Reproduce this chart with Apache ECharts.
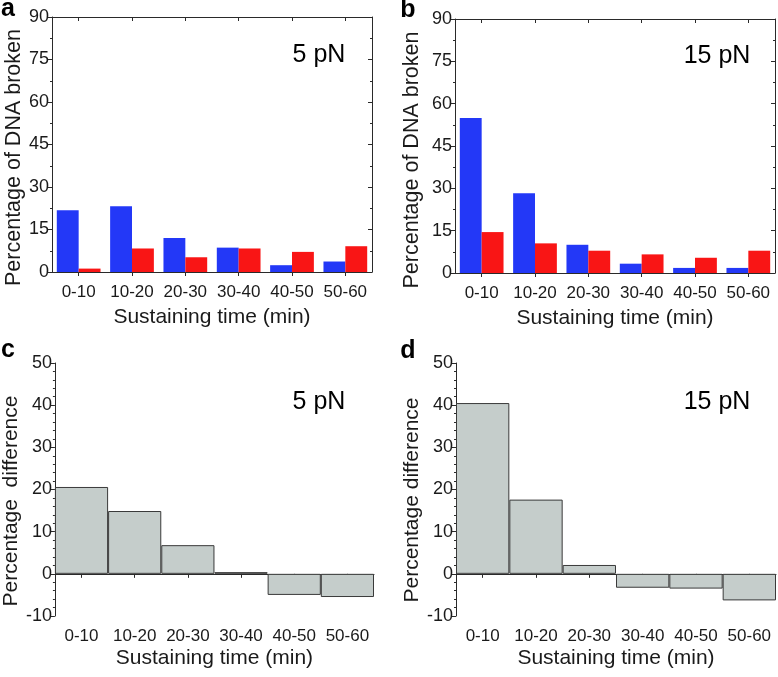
<!DOCTYPE html>
<html>
<head>
<meta charset="utf-8">
<script src="https://cdn.jsdelivr.net/npm/echarts@6/dist/echarts.min.js"></script>
<style>html,body{margin:0;padding:0;background:#fff}#c{width:778px;height:677px}</style>
</head>
<body>
<div id="c"></div>
<script>
const categories = ['0-10', '10-20', '20-30', '30-40', '40-50', '50-60'];
const blue5 = [21.8, 23.2, 12.0, 8.6, 2.4, 3.7];
const red5 = [1.2, 8.3, 5.2, 8.3, 7.1, 9.1];
const blue15 = [54.9, 28.3, 10.0, 3.3, 1.8, 1.8];
const red15 = [14.5, 10.5, 7.9, 6.6, 5.4, 7.9];
const diff5 = [20.6, 14.9, 6.8, 0.4, -5.0, -5.5];
const diff15 = [40.5, 17.6, 2.1, -3.3, -3.5, -6.3];
const topYTicks = [0, 15, 30, 45, 60, 75, 90];
const bottomYTicks = [-10, 0, 10, 20, 30, 40, 50];
const xTitle = 'Sustaining time (min)';
const yTitleTop = 'Percentage of DNA broken';
const yTitleC = 'Percentage  difference';
const yTitleD = 'Percentage difference';

const FONT = "'Liberation Sans', Arial, sans-serif";
const TXT = '#1a1a1a';
const LINE = '#2a2a2a';

const chart = echarts.init(document.getElementById('c'), null, {renderer: 'canvas'});

const grids = [
  {left: 52, top: 17, width: 320, height: 255},
  {left: 455, top: 19, width: 320, height: 254},
  {left: 53, top: 363, width: 321, height: 253},
  {left: 456, top: 363, width: 320, height: 253}
];

function xBottom(gi, gap, nameGap) {
  return {
    type: 'category', gridIndex: gi, data: categories, position: 'bottom',
    axisLine: {show: gi < 2, onZero: false, lineStyle: {color: LINE, width: 1}},
    axisTick: {show: gi < 2, alignWithLabel: true, length: 4, lineStyle: {color: LINE}},
    axisLabel: {color: TXT, fontSize: 17, fontFamily: FONT, margin: gap, interval: 0},
    name: xTitle, nameLocation: 'middle', nameGap: nameGap,
    nameTextStyle: {color: TXT, fontSize: 21, fontFamily: FONT}
  };
}
function xTop(gi, onZero) {
  return {
    type: 'category', gridIndex: gi, data: categories, position: 'top',
    axisLine: {show: true, onZero: onZero, lineStyle: {color: LINE, width: 1}},
    axisTick: {show: true, inside: true, alignWithLabel: true, interval: 0, length: 4, lineStyle: {color: LINE}},
    axisLabel: {show: false, interval: 0}
  };
}
function yLeft(gi, ticks, name, nameGap, size, pad) {
  const min = ticks[0], max = ticks[ticks.length - 1], iv = ticks[1] - ticks[0];
  return {
    type: 'value', gridIndex: gi, min: min, max: max, interval: iv, position: 'left',
    axisLine: {show: true, onZero: false, lineStyle: {color: LINE, width: 1}},
    axisTick: {show: true, length: 4, lineStyle: {color: LINE}},
    minorTick: {show: true, splitNumber: gi < 2 ? 2 : 5, length: 2, lineStyle: {color: LINE}},
    splitLine: {show: false},
    axisLabel: {color: TXT, fontSize: 18, fontFamily: FONT, margin: 3},
    name: name, nameLocation: 'middle', nameGap: nameGap,
    nameTextStyle: {color: TXT, fontSize: size, fontFamily: FONT, padding: pad}
  };
}
function yRight(gi, ticks) {
  const min = ticks[0], max = ticks[ticks.length - 1], iv = ticks[1] - ticks[0];
  return {
    type: 'value', gridIndex: gi, min: min, max: max, interval: iv, position: 'right',
    axisLine: {show: true, onZero: false, lineStyle: {color: LINE, width: 1}},
    axisTick: {show: true, inside: true, length: 4, lineStyle: {color: LINE}},
    minorTick: {show: true, splitNumber: 2, length: 2, lineStyle: {color: LINE}},
    splitLine: {show: false},
    axisLabel: {show: false}
  };
}

const BLUE = '#2338f7';
const RED = '#f91515';
const GRAY = '#c5cdcb';

function pairSeries(xi, yi, b, r) {
  return [
    {type: 'bar', xAxisIndex: xi, yAxisIndex: yi, data: b, barGap: '0%', barCategoryGap: '18%',
     itemStyle: {color: BLUE}, silent: true},
    {type: 'bar', xAxisIndex: xi, yAxisIndex: yi, data: r, barGap: '0%', barCategoryGap: '18%',
     itemStyle: {color: RED}, silent: true}
  ];
}
function diffSeries(xi, yi, d) {
  return {type: 'bar', xAxisIndex: xi, yAxisIndex: yi, data: d, barCategoryGap: '0%',
    itemStyle: {color: GRAY, borderColor: '#3a3a3a', borderWidth: 1}, silent: true};
}

function txt(x, y, s, size, bold, align) {
  return {type: 'text', x: x, y: y, style: {text: s, fill: '#000', font: (bold ? 'bold ' : '') + size + 'px ' + FONT,
    textAlign: align || 'center', textVerticalAlign: 'middle'}};
}

chart.setOption({
  animation: false,
  backgroundColor: '#fff',
  grid: grids,
  xAxis: [
    xBottom(0, 12, 35), xTop(0, false),
    xBottom(1, 12, 35), xTop(1, false),
    xBottom(2, 12, 32), xTop(2, true),
    xBottom(3, 12, 32), xTop(3, true)
  ],
  yAxis: [
    yLeft(0, topYTicks, yTitleTop, 27, 21.5, [0, 26, 0, 0]), yRight(0, topYTicks),
    yLeft(1, topYTicks, yTitleTop, 32, 21.5, [0, 28, 0, 0]), yRight(1, topYTicks),
    yLeft(2, bottomYTicks, yTitleC, 29.5, 21, [0, 23, 0, 0]),
    yLeft(3, bottomYTicks, yTitleD, 33.5, 21, [0, 21, 0, 0])
  ],
  series: [
    ...pairSeries(0, 0, blue5, red5),
    ...pairSeries(2, 2, blue15, red15),
    diffSeries(4, 4, diff5),
    diffSeries(6, 5, diff15)
  ],
  graphic: [
    txt(8, 9, 'a', 25, true),
    txt(408, 10, 'b', 25, true),
    txt(8, 350, 'c', 25, true),
    txt(408, 351, 'd', 25, true),
    txt(319, 55, '5 pN', 25, false),
    txt(717, 56, '15 pN', 25, false),
    txt(319, 402, '5 pN', 25, false),
    txt(717, 402, '15 pN', 25, false)
  ]
});
</script>
</body>
</html>
